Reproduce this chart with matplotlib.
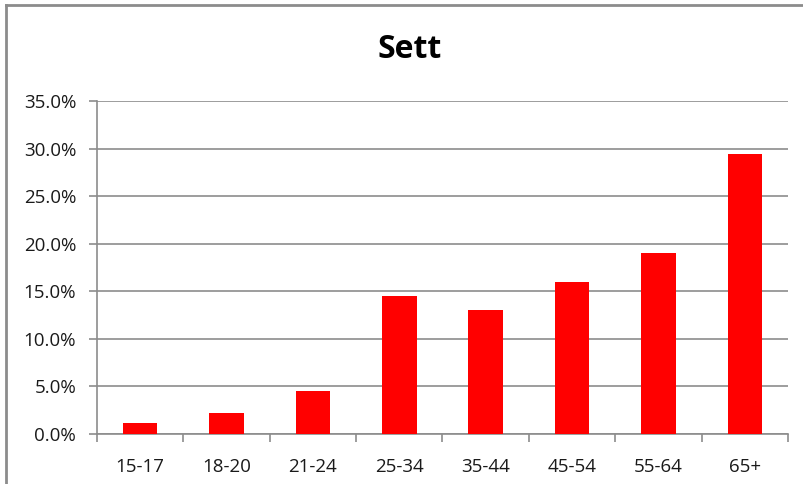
import matplotlib
matplotlib.use("Agg")
import matplotlib.pyplot as plt
from matplotlib.lines import Line2D
from matplotlib.ticker import FuncFormatter, MultipleLocator
import numpy as np

categories = ["15-17", "18-20", "21-24", "25-34", "35-44", "45-54", "55-64", "65+"]
values = [1.2, 2.2, 4.5, 14.5, 13.0, 16.0, 19.0, 29.4]
title = "Sett"

plt.rcParams['font.family'] = ['Open Sans', 'DejaVu Sans']

fig = plt.figure(figsize=(8.04, 4.84), dpi=100)
W, H = 804, 484
ax = fig.add_axes([97 / W, 1 - 434 / H, (788 - 97) / W, (434 - 101) / H])

x = np.arange(len(categories))
ax.bar(x, values, width=0.4, color="#ff0000", zorder=3)

ax.set_xlim(-0.5, len(categories) - 0.5)
ax.set_ylim(0, 35)
ax.yaxis.set_major_locator(MultipleLocator(5))
ax.yaxis.set_major_formatter(FuncFormatter(lambda v, p: f"{v:.1f}%"))
ax.grid(axis="y", color="#8c8c8c", linewidth=1.2, zorder=0)

ax.set_xticks(x)
ax.set_xticklabels(categories)
ax.set_xticks(np.arange(-0.5, len(categories)), minor=True)
ax.tick_params(axis="x", which="major", length=0, pad=17, labelsize=13.5, colors="#000000")
ax.tick_params(axis="x", which="minor", length=6, width=1.2, color="#8c8c8c", direction="out")
ax.tick_params(axis="y", which="major", length=6, width=1.2, color="#8c8c8c", direction="out", labelsize=13.5, pad=9)
for lbl in ax.get_xticklabels() + ax.get_yticklabels():
    lbl.set_color("#1a1a1a")

for s in ["top", "right"]:
    ax.spines[s].set_visible(False)
for s in ["left", "bottom"]:
    ax.spines[s].set_color("#8c8c8c")
    ax.spines[s].set_linewidth(1.2)

fig.text(410 / W, 1 - 50 / H, title, ha="center", va="center", fontsize=23, fontweight="bold", color="#000000")

# outer chart border (partially visible)
fig.add_artist(Line2D([6 / W, 6 / W], [0, 1 - 5 / H], transform=fig.transFigure, color="#8c8c8c", linewidth=2))
fig.add_artist(Line2D([6 / W, 1], [1 - 5 / H, 1 - 5 / H], transform=fig.transFigure, color="#8c8c8c", linewidth=2))

fig.savefig("out.png", dpi=100)
